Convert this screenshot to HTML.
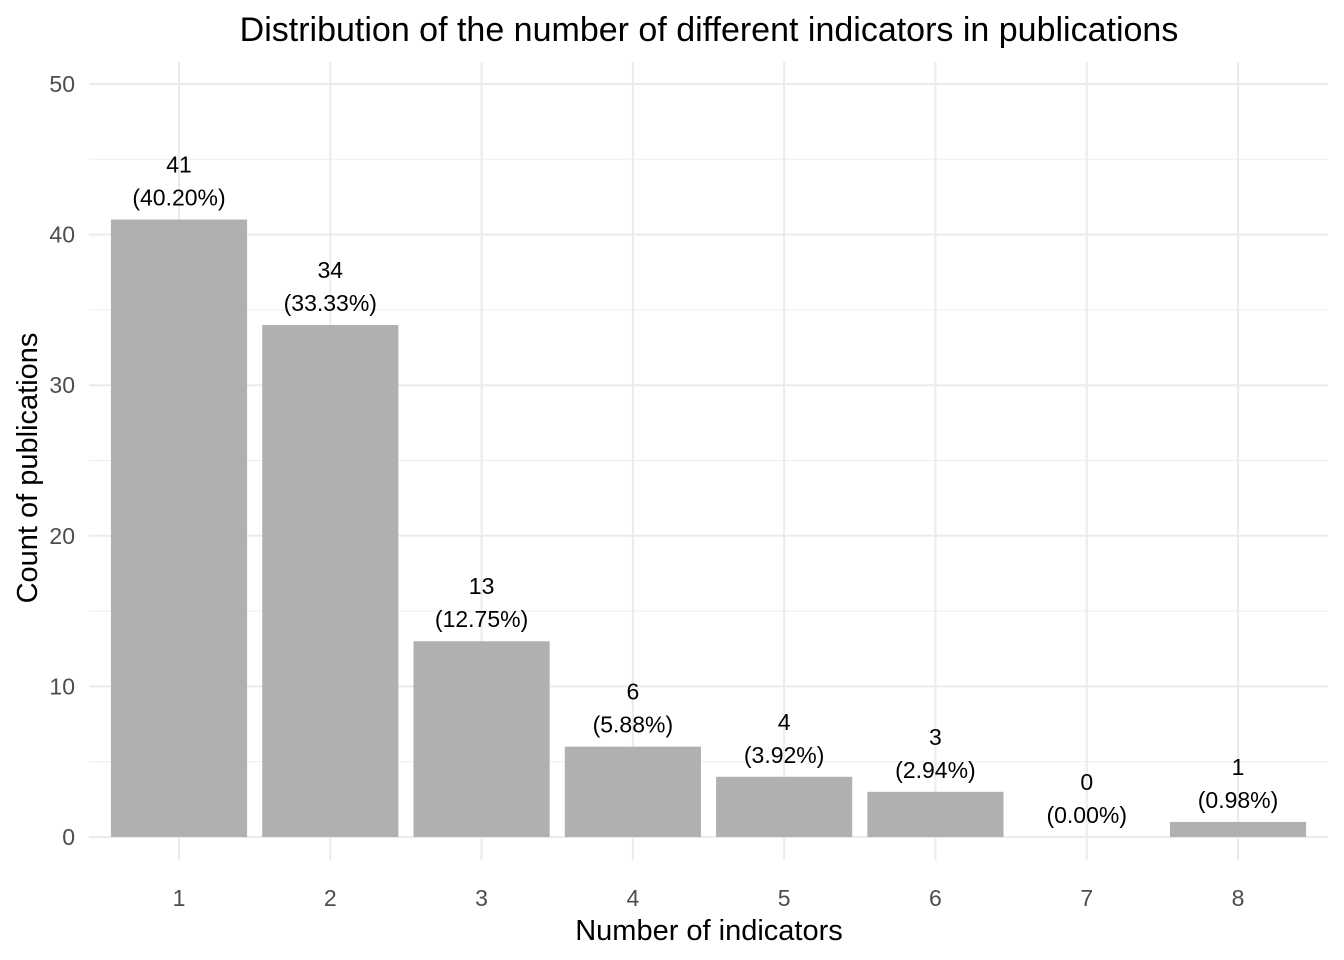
<!DOCTYPE html>
<html><head><meta charset="utf-8"><style>
body{margin:0;background:#fff;}
svg{display:block;font-family:"Liberation Sans",Arial,sans-serif;}
</style></head><body>
<svg id="chart" width="1344" height="960" xmlns="http://www.w3.org/2000/svg">
<text x="709" y="41" font-size="34" text-anchor="middle" fill="#000">Distribution of the number of different indicators in publications</text>
<text x="709" y="940" font-size="29" text-anchor="middle" fill="#000">Number of indicators</text>
<text transform="translate(37,468) rotate(-90)" font-size="29" text-anchor="middle" fill="#000">Count of publications</text>
<g id="grid"></g><g id="bars"></g><g id="labels"></g><g id="ticks"></g>
</svg>
<script>
const categories = ["1","2","3","4","5","6","7","8"];
const counts = [41,34,13,6,4,3,0,1];
const percents = ["40.20%","33.33%","12.75%","5.88%","3.92%","2.94%","0.00%","0.98%"];
const yTicks = [0,10,20,30,40,50];
const yMinor = [5,15,25,35,45];
const NS="http://www.w3.org/2000/svg";
const pLeft=89, pRight=1328, yTop=62, yBottom=860;
function yS(v){return 837 - v*15.06;}
const step=151.29;
function xS(i){return 179 + i*step;}
const bw=step*0.9;
function mk(tag,attrs,parent){const e=document.createElementNS(NS,tag);for(const k in attrs)e.setAttribute(k,attrs[k]);document.getElementById(parent).appendChild(e);return e;}
yMinor.forEach(v=>{const l=mk('line',{x1:pLeft,x2:pRight,y1:yS(v),y2:yS(v),stroke:'#f0f0f0','stroke-width':1.2},'grid');

});
yTicks.forEach(v=>{const l=mk('line',{x1:pLeft,x2:pRight,y1:yS(v),y2:yS(v),stroke:'#ebebeb','stroke-width':2},'grid');


const t=mk('text',{x:75,y:yS(v)+8,'font-size':23,'text-anchor':'end',fill:'#4d4d4d'},'ticks');t.textContent=v;

});
categories.forEach((c,i)=>{
const l=mk('line',{x1:xS(i),x2:xS(i),y1:yTop,y2:yBottom,stroke:'#ebebeb','stroke-width':2},'grid');


const b=mk('rect',{x:xS(i)-bw/2,y:yS(counts[i]),width:bw,height:Math.max(0,yS(0)-yS(counts[i])),fill:'#b0b0b0'},'bars');


const t1=mk('text',{x:xS(i),y:yS(counts[i])-47,'font-size':23,'text-anchor':'middle',fill:'#000'},'labels');t1.textContent=counts[i];


const t2=mk('text',{x:xS(i),y:yS(counts[i])-14,'font-size':23,'text-anchor':'middle',fill:'#000'},'labels');t2.textContent='('+percents[i]+')';


const t=mk('text',{x:xS(i),y:906,'font-size':23,'text-anchor':'middle',fill:'#4d4d4d'},'ticks');t.textContent=c;


});
</script>
</body></html>
